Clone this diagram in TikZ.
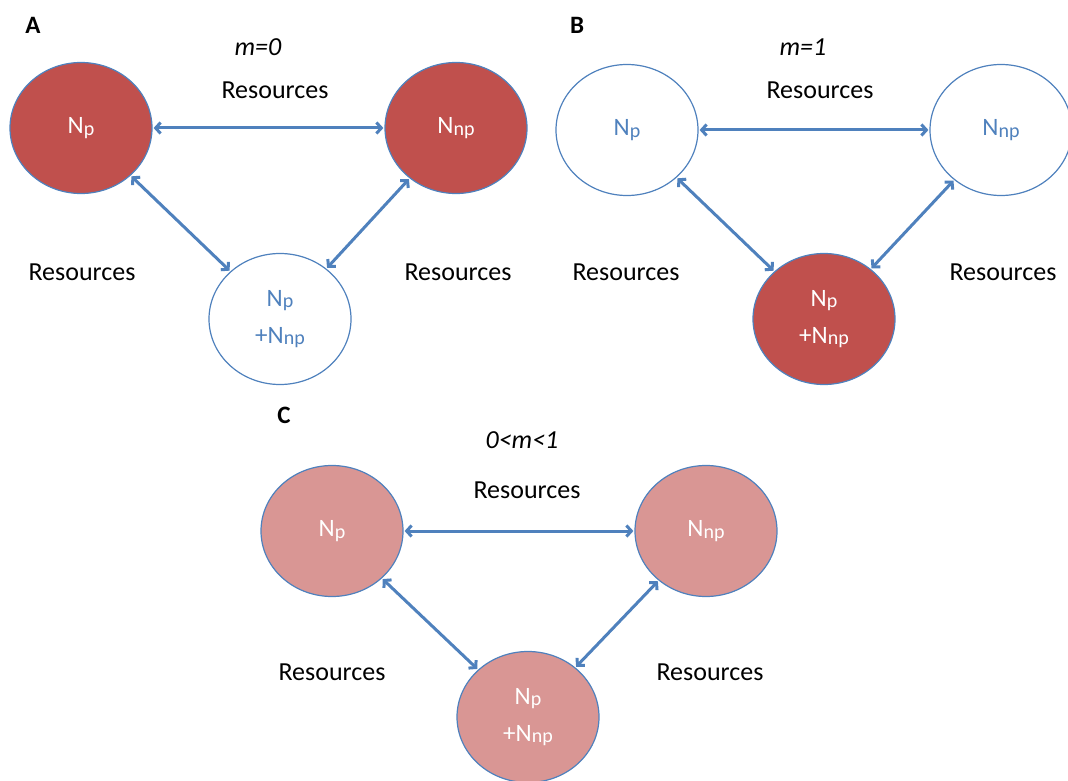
\documentclass[tikz,border=0pt]{standalone}
\usepackage{fontspec}
\setmainfont{Carlito}
\usetikzlibrary{shapes.geometric,arrows.meta}
\definecolor{dred}{HTML}{C0504D}
\definecolor{lred}{HTML}{D99694}
\definecolor{oblue}{HTML}{4F81BD}
\newcommand{\Sb}[1]{\raisebox{-1.5pt}{\fontsize{20}{20}\selectfont #1}}
\begin{document}
\begin{tikzpicture}[x=1pt,y=-1pt,
 pop/.style={ellipse, draw=oblue, line width=1.2pt, minimum width=142pt, minimum height=131pt, inner sep=0pt, font=\fontsize{25}{37}\selectfont, align=center},
 full/.style={pop, fill=dred, text=white},
 empty/.style={pop, fill=white, text=oblue},
 mid/.style={pop, fill=lred, text=white},
 link/.style={draw=oblue, line width=3pt, {Straight Barb[length=5pt,width=11pt]}-{Straight Barb[length=5pt,width=11pt]}, shorten <=1pt, shorten >=1pt},
 lab/.style={font=\fontsize{26}{30}\selectfont},
 panel/.style={font=\fontsize{25}{28}\selectfont\bfseries},
 cond/.style={font=\fontsize{26}{30}\selectfont\itshape}]
\useasboundingbox (0,0) rectangle (1068,781);
% Panel A
\node[panel] (pA) at (33,25) {A};
\node[cond] (mA) at (258,47) {m=0};
\node[full] (a1) at (81,128) {N\Sb{p}};
\node[full] (a2) at (456,128) {N\Sb{np}};
\node[empty] (a3) at (280,319) {N\Sb{p}\\+N\Sb{np}};
\node[lab] (ra1) at (275,90) {Resources};
\node[lab] (ra2) at (82,272) {Resources};
\node[lab] (ra3) at (458,272) {Resources};
\draw[link] (a1) -- (a2);
\draw[link] (a1) -- (a3);
\draw[link] (a2) -- (a3);
% Panel B
\node[panel] (pB) at (577,25) {B};
\node[cond] (mB) at (803,47) {m=1};
\node[empty] (b1) at (627,130) {N\Sb{p}};
\node[empty] (b2) at (1001,130) {N\Sb{np}};
\node[full] (b3) at (824,319) {N\Sb{p}\\+N\Sb{np}};
\node[lab] (rb1) at (820,90) {Resources};
\node[lab] (rb2) at (626,272) {Resources};
\node[lab] (rb3) at (1003,272) {Resources};
\draw[link] (b1) -- (b2);
\draw[link] (b1) -- (b3);
\draw[link] (b2) -- (b3);
% Panel C
\node[panel] (pC) at (284,415) {C};
\node[cond] (mC) at (522,440) {0<m<1};
\node[mid] (c1) at (332,531) {N\Sb{p}};
\node[mid] (c2) at (706,531) {N\Sb{np}};
\node[mid] (c3) at (528,717) {N\Sb{p}\\+N\Sb{np}};
\node[lab] (rc1) at (527,490) {Resources};
\node[lab] (rc2) at (332,672) {Resources};
\node[lab] (rc3) at (710,672) {Resources};
\draw[link] (c1) -- (c2);
\draw[link] (c1) -- (c3);
\draw[link] (c2) -- (c3);
\end{tikzpicture}
\end{document}
